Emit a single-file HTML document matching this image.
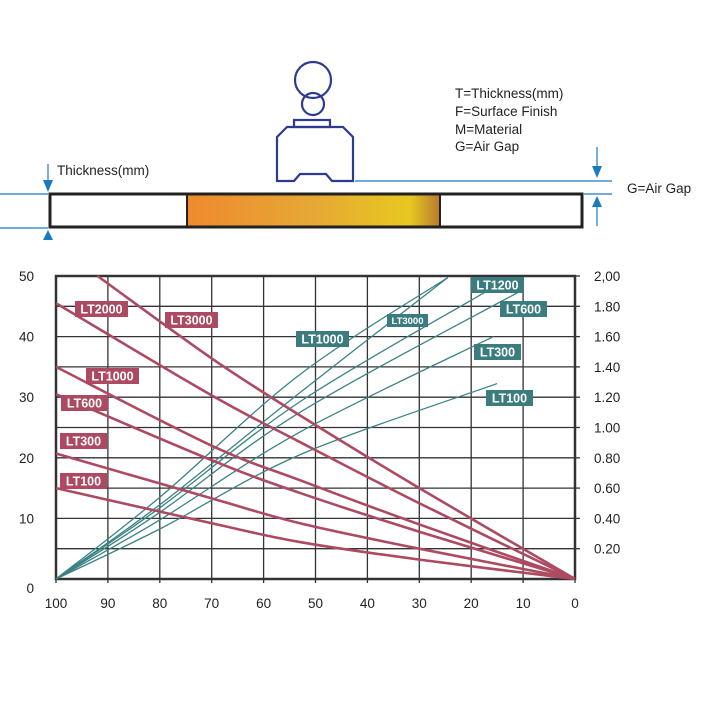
<!DOCTYPE html>
<html><head><meta charset="utf-8"><style>
body{margin:0;background:#fff;}
svg{display:block;font-family:"Liberation Sans",sans-serif;}
</style></head><body>
<svg width="710" height="710" viewBox="0 0 710 710">
<g id="diagram">
  <defs><linearGradient id="mat" x1="0" x2="1">
    <stop offset="0" stop-color="#ef8a2e"/><stop offset="0.5" stop-color="#e6a835"/><stop offset="0.88" stop-color="#e8c820"/><stop offset="1" stop-color="#b87a30"/>
  </linearGradient></defs>
  <g stroke="#2e3a8f" stroke-width="2.2" fill="none">
    <circle cx="313" cy="80" r="18"/><circle cx="313" cy="104" r="11"/>
    <rect x="294" y="120" width="36" height="7"/>
    <polygon points="277,137 287,127 343,127 353,137 353,181 332,181 326,174 300,174 294,181 277,181"/>
  </g>
  <rect x="188" y="194" width="252" height="33" fill="url(#mat)"/>
  <rect x="50" y="194" width="532" height="33" fill="none" stroke="#222" stroke-width="3"/>
  <line x1="187" y1="194" x2="187" y2="227" stroke="#222" stroke-width="2"/>
  <line x1="440" y1="194" x2="440" y2="227" stroke="#222" stroke-width="2"/>
  <g stroke="#1a7abf" stroke-width="1.2" fill="#1a7abf">
    <line x1="0" y1="194" x2="48" y2="194"/><line x1="0" y1="228" x2="48" y2="228"/>
    <line x1="584" y1="194" x2="612" y2="194"/><line x1="355" y1="181" x2="612" y2="181"/>
    <line x1="48" y1="164" x2="48" y2="184"/><polygon points="43,180 53,180 48,192" stroke="none"/>
    <line x1="48" y1="240" x2="48" y2="236"/><polygon points="43,240 53,240 48,230" stroke="none"/>
    <line x1="597" y1="147" x2="597" y2="166"/><polygon points="592,166 602,166 597,178" stroke="none"/>
    <line x1="597" y1="207" x2="597" y2="226"/><polygon points="592,207 602,207 597,196" stroke="none"/>
  </g>
  <g font-size="13.5" fill="#222">
    <text x="57" y="175">Thickness(mm)</text>
    <text x="627" y="193">G=Air Gap</text>
    <text x="455" y="98">T=Thickness(mm)</text>
    <text x="455" y="116">F=Surface Finish</text>
    <text x="455" y="134">M=Material</text>
    <text x="455" y="151">G=Air Gap</text>
  </g>
</g>
<g id="chart"></g>
</svg>
<script>
const xTicks=[100,90,80,70,60,50,40,30,20,10,0];
const yTicks=[0,10,20,30,40,50];
const rTicks=["0.20","0.40","0.60","0.80","1.00","1.20","1.40","1.60","1.80","2,00"];
const redNames=["LT3000","LT2000","LT1000","LT600","LT300","LT100"];
const redX=[[92,70,53,30,0],[100,70,53,30,0],[100,70,53,30,0],[100,70,53,30,0],[100,70,53,30,0],[100,70,53,30,0]];
const redY=[[50,36.4,27,15,0],[45.5,30.3,22.6,12.5,0],[35,22,16.3,9,0],[30.5,19.6,14.2,7.8,0],[20.7,13.3,9.2,5,0],[15,9.2,6.1,3.2,0]];
const tealNames=["LT1000","LT3000","LT1200","LT600","LT300","LT100"];
const tealX=[[100,80,53,24.5],[100,80,53,24.5],[100,80,53,17.5],[100,80,53,10],[100,80,53,15.7],[100,80,53,15]];
const tealY=[[0,0.54,1.35,1.99],[0,0.49,1.23,1.99],[0,0.47,1.17,1.89],[0,0.44,1.10,1.91],[0,0.39,0.97,1.60],[0,0.33,0.82,1.29]];
const redLabelPos=[[165,312],[75,301],[86,368],[61,395],[60,433],[60,473]];
const tealLabelPos=[[296,331],[387,314],[471,277],[500,301],[474,344],[486,390]];
const X0=56,X1=575,Y0=579,Y1=276;
const sx=v=>X1-(v/100)*(X1-X0);
const sy=v=>Y0-(v/50)*(Y0-Y1);
const sr=v=>Y0-(v/2)*(Y0-Y1);
const NS="http://www.w3.org/2000/svg";
const g=document.getElementById('chart');
function mk(t,a,p){const e=document.createElementNS(NS,t);for(const k in a)e.setAttribute(k,a[k]);(p||g).appendChild(e);return e;}
for(let v=0;v<=50;v+=5){const l=mk('line',{x1:X0,x2:X1,y1:sy(v),y2:sy(v),stroke:'#333','stroke-width':1.3});

}
xTicks.forEach(v=>{const l=mk('line',{x1:sx(v),x2:sx(v),y1:Y1,y2:Y0+4,stroke:'#333','stroke-width':1.3});


const t=mk('text',{x:sx(v),y:608,'text-anchor':'middle','font-size':13.5,fill:'#222'});t.textContent=v;

});
yTicks.forEach(v=>{const t=mk('text',{x:34,y:v===0?593:sy(v)+5,'text-anchor':'end','font-size':13.5,fill:'#222'});t.textContent=v;

});
rTicks.forEach((s,i)=>{const v=parseFloat(s.replace(',','.'));const y=sr(v);
const l=mk('line',{x1:X1,x2:X1+5,y1:y,y2:y,stroke:'#333','stroke-width':1.3});


const t=mk('text',{x:594,y:y+5,'font-size':13.5,fill:'#222'});t.textContent=s;

});
const frame=mk('path',{d:`M${X0},${Y1} L${X1},${Y1} L${X1},${Y0} L${X0},${Y0} Z`,fill:'none',stroke:'#333','stroke-width':2.5});


function smooth(pts){let d=`M${pts[0][0]},${pts[0][1]}`;for(let i=0;i<pts.length-1;i++){const p0=pts[Math.max(i-1,0)],p1=pts[i],p2=pts[i+1],p3=pts[Math.min(i+2,pts.length-1)];
d+=` C${p1[0]+(p2[0]-p0[0])/6},${p1[1]+(p2[1]-p0[1])/6} ${p2[0]-(p3[0]-p1[0])/6},${p2[1]-(p3[1]-p1[1])/6} ${p2[0]},${p2[1]}`;}return d;}
tealNames.forEach((n,i)=>{const p=mk('path',{d:smooth(tealX[i].map((x,j)=>[sx(x),sr(tealY[i][j])])),fill:'none',stroke:'#3b8284','stroke-width':1.3});

});
redNames.forEach((n,i)=>{const p=mk('path',{d:smooth(redX[i].map((x,j)=>[sx(x),sy(redY[i][j])])),fill:'none',stroke:'#ad4a62','stroke-width':2.6});

});
function label(n,pos,col,small,name){const w=small?41:(n.length>5?53:47);const r=mk('rect',{x:pos[0],y:pos[1],width:w,height:small?13:16,fill:col});


const t=mk('text',{x:pos[0]+w/2,y:pos[1]+(small?10:12.5),'text-anchor':'middle','font-size':small?9.5:12.5,'font-weight':'bold',fill:'#fff'});t.textContent=n;

}
redNames.forEach((n,i)=>label(n,redLabelPos[i],'#ad4a62',false,'thickness-label-'+n.toLowerCase()));
tealNames.forEach((n,i)=>label(n,tealLabelPos[i],'#3b7d7e',i===1,'gap-label-'+n.toLowerCase()));
</script>
</body></html>
